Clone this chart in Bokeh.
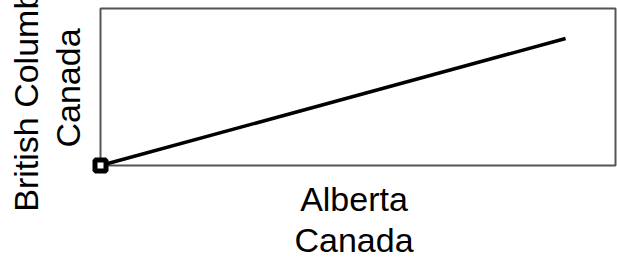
from bokeh.plotting import figure
from bokeh.models import Range1d
from bokeh.embed import file_html
from bokeh.resources import INLINE

alberta = [0.0, 0.903]
british_columbia = [0.0, 0.809]
x_min, x_max = 0.0, 1.0
y_min, y_max = 0.0, 1.0
x_label = "Alberta\nCanada"
y_label = "British Columbia\nCanada"

# visible box is drawn as a quad; the real frame is a bit larger so the
# corner marker is not clipped
x_pad_lo, x_pad_hi = 10 / 515, 2 / 515
y_pad_lo, y_pad_hi = 10 / 157, 8 / 157

p = figure(width=617, height=262, output_backend="svg", toolbar_location=None,
           x_range=Range1d(x_min - x_pad_lo, x_max + x_pad_hi),
           y_range=Range1d(y_min - y_pad_lo, y_max + y_pad_hi),
           min_border_left=90, min_border_right=0, min_border_top=0, min_border_bottom=10)
p.quad(left=[x_min], right=[x_max], bottom=[y_min], top=[y_max],
       fill_color=None, line_color="#555555", line_width=2)
p.line(alberta, british_columbia, line_color="black", line_width=3.5)
p.scatter(alberta[:1], british_columbia[:1], marker="square", size=11,
          line_width=5, line_color="black", fill_color="white")

p.xgrid.visible = False
p.ygrid.visible = False
p.outline_line_color = None
for ax in (p.xaxis, p.yaxis):
    ax.ticker = []
    ax.axis_line_color = None
    ax.major_tick_line_color = None
    ax.minor_tick_line_color = None
    ax.major_label_text_font_size = "0px"
    ax.axis_label_text_font = "Liberation Sans"
    ax.axis_label_text_font_size = "34px"
    ax.axis_label_text_font_style = "normal"
    ax.axis_label_text_color = "black"
    ax.axis_label_text_line_height = 1.1
p.xaxis.axis_label = x_label
p.yaxis.axis_label = y_label
p.xaxis.axis_label_standoff = 4
p.yaxis.axis_label_standoff = 4

open("out.html", "w").write(file_html(p, INLINE))
